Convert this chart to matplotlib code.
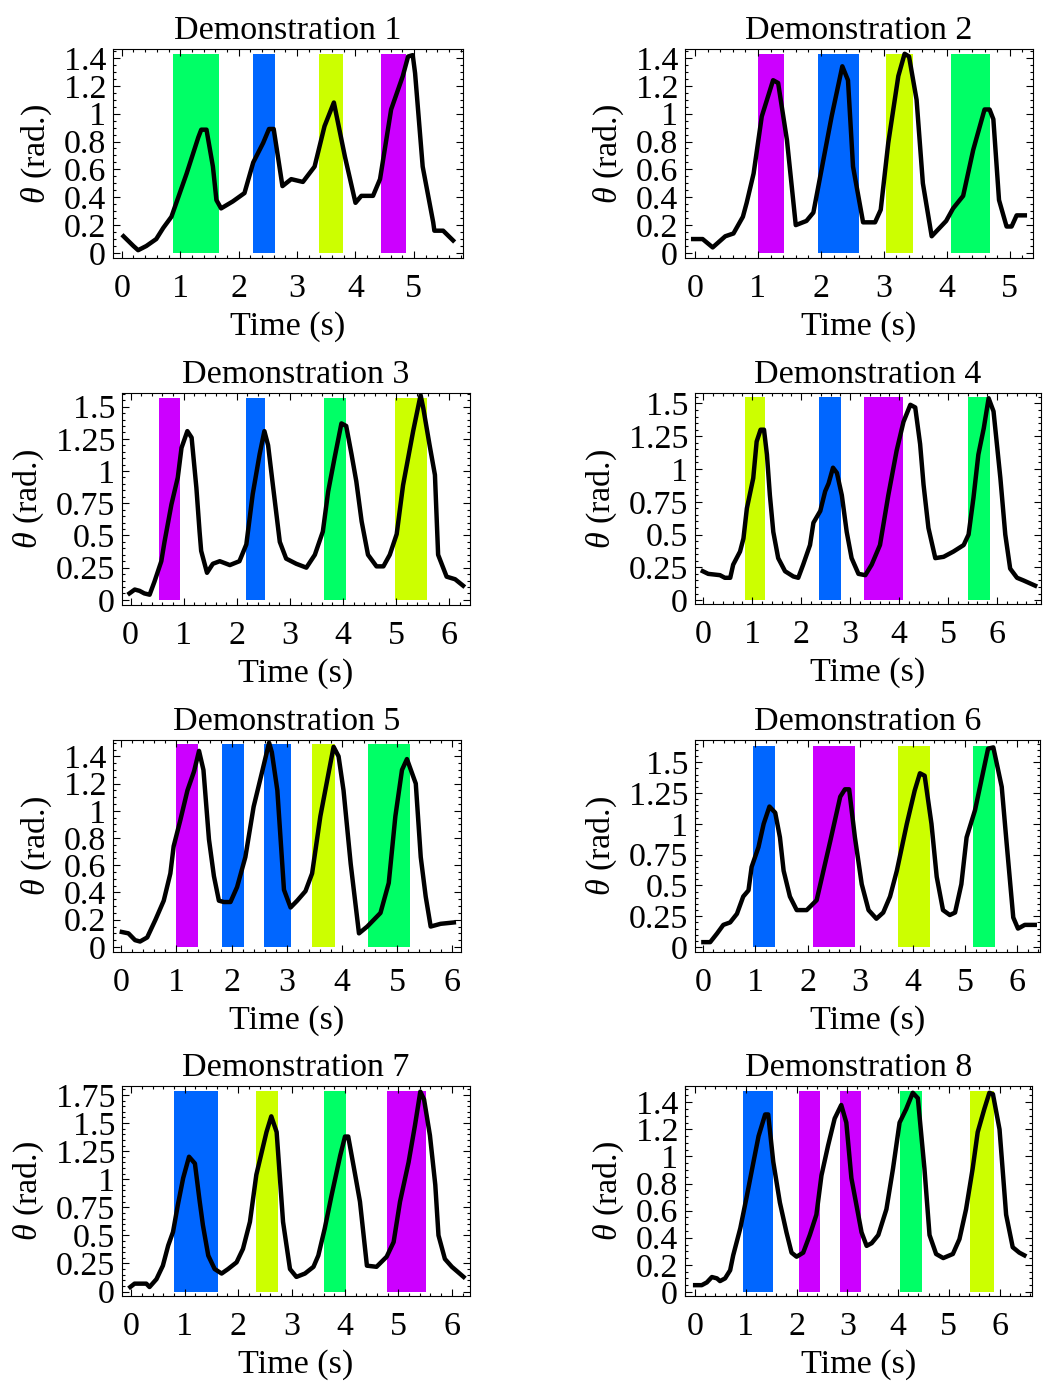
import numpy as np
import matplotlib.pyplot as plt
from matplotlib.ticker import MultipleLocator

plt.rcParams['font.family'] = ['Liberation Serif', 'DejaVu Serif']
plt.rcParams['mathtext.fontset'] = 'custom'
plt.rcParams['mathtext.rm'] = 'Liberation Serif'
plt.rcParams['mathtext.it'] = 'Liberation Serif:italic'

# ---- data ----
t1 = [0.03, 0.2, 0.28, 0.42, 0.59, 0.71, 0.85, 1.11, 1.31, 1.36, 1.45, 1.56, 1.62, 1.70, 1.90, 2.10,
      2.25, 2.42, 2.52, 2.60, 2.75, 2.90, 3.10, 3.30, 3.47, 3.63, 3.82, 4.00, 4.10, 4.30, 4.42, 4.61,
      4.81, 4.90, 4.98, 5.02, 5.15, 5.33, 5.35, 5.50, 5.67]
th1 = [0.12, 0.05, 0.02, 0.05, 0.10, 0.18, 0.26, 0.57, 0.83, 0.885, 0.885, 0.62, 0.38, 0.32, 0.37, 0.43,
       0.65, 0.79, 0.89, 0.89, 0.48, 0.53, 0.51, 0.62, 0.91, 1.08, 0.69, 0.36, 0.41, 0.41, 0.53, 1.03,
       1.27, 1.41, 1.42, 1.29, 0.62, 0.22, 0.16, 0.16, 0.09]

t2 = [-0.03, 0.12, 0.28, 0.48, 0.61, 0.76, 0.82, 0.93, 1.06, 1.24, 1.32, 1.46, 1.60, 1.77, 1.88, 2.17,
      2.34, 2.43, 2.51, 2.67, 2.86, 2.95, 3.07, 3.23, 3.33, 3.40, 3.52, 3.62, 3.76, 3.99, 4.10, 4.26,
      4.42, 4.60, 4.68, 4.74, 4.83, 4.95, 5.03, 5.11, 5.24]
th2 = [0.10, 0.10, 0.04, 0.12, 0.14, 0.26, 0.36, 0.57, 0.98, 1.24, 1.22, 0.81, 0.20, 0.23, 0.29, 0.98,
       1.34, 1.24, 0.62, 0.22, 0.22, 0.31, 0.79, 1.27, 1.43, 1.41, 1.10, 0.50, 0.12, 0.23, 0.32, 0.41,
       0.74, 1.03, 1.03, 0.96, 0.38, 0.19, 0.19, 0.27, 0.27]

t3 = [-0.02, 0.08, 0.17, 0.26, 0.36, 0.45, 0.58, 0.64, 0.77, 0.89, 0.96, 1.07, 1.15, 1.24, 1.30, 1.33,
      1.44, 1.55, 1.68, 1.87, 2.05, 2.18, 2.30, 2.43, 2.52, 2.59, 2.68, 2.81, 2.93, 3.12, 3.31, 3.47,
      3.62, 3.72, 3.84, 3.97, 4.06, 4.16, 4.25, 4.35, 4.47, 4.63, 4.76, 4.88, 5.01, 5.13, 5.32, 5.46,
      5.51, 5.63, 5.73, 5.79, 5.95, 6.11, 6.26]
th3 = [0.05, 0.08, 0.07, 0.05, 0.04, 0.14, 0.30, 0.45, 0.74, 0.95, 1.18, 1.31, 1.26, 0.87, 0.53, 0.38,
       0.21, 0.28, 0.30, 0.27, 0.30, 0.43, 0.82, 1.13, 1.31, 1.20, 0.89, 0.45, 0.32, 0.28, 0.25, 0.35,
       0.53, 0.84, 1.10, 1.37, 1.35, 1.13, 0.92, 0.61, 0.35, 0.26, 0.26, 0.35, 0.51, 0.89, 1.31, 1.59,
       1.49, 1.20, 0.97, 0.35, 0.18, 0.16, 0.11]

t4 = [-0.01, 0.10, 0.34, 0.44, 0.55, 0.61, 0.75, 0.82, 0.89, 1.02, 1.09, 1.17, 1.24, 1.30, 1.36, 1.43,
      1.53, 1.67, 1.84, 1.94, 2.04, 2.18, 2.25, 2.39, 2.49, 2.56, 2.65, 2.73, 2.83, 2.93, 3.03, 3.17,
      3.31, 3.44, 3.61, 3.78, 3.95, 4.09, 4.23, 4.33, 4.43, 4.50, 4.60, 4.74, 4.91, 5.11, 5.32, 5.42,
      5.52, 5.62, 5.73, 5.83, 5.93, 6.07, 6.17, 6.27, 6.41, 6.54, 6.78]
th4 = [0.22, 0.20, 0.19, 0.17, 0.17, 0.27, 0.37, 0.47, 0.70, 0.93, 1.21, 1.30, 1.30, 1.11, 0.80, 0.52,
       0.32, 0.22, 0.18, 0.17, 0.27, 0.42, 0.59, 0.68, 0.83, 0.89, 1.01, 0.97, 0.80, 0.52, 0.32, 0.20,
       0.19, 0.27, 0.42, 0.80, 1.14, 1.36, 1.49, 1.47, 1.19, 0.88, 0.55, 0.32, 0.33, 0.37, 0.42, 0.50,
       0.78, 1.11, 1.31, 1.54, 1.44, 0.93, 0.50, 0.24, 0.17, 0.15, 0.11]

t5 = [0.01, 0.13, 0.25, 0.34, 0.47, 0.62, 0.77, 0.89, 0.95, 1.07, 1.20, 1.32, 1.41, 1.49, 1.59, 1.68,
      1.77, 1.86, 1.98, 2.10, 2.25, 2.40, 2.55, 2.68, 2.73, 2.83, 2.95, 3.07, 3.19, 3.34, 3.46, 3.61,
      3.76, 3.85, 3.94, 4.03, 4.16, 4.31, 4.46, 4.70, 4.85, 4.97, 5.09, 5.18, 5.34, 5.43, 5.52, 5.61,
      5.79, 6.03]
th5 = [0.11, 0.10, 0.05, 0.04, 0.07, 0.20, 0.34, 0.54, 0.74, 0.93, 1.15, 1.29, 1.44, 1.30, 0.79, 0.52,
       0.34, 0.33, 0.33, 0.44, 0.66, 1.03, 1.28, 1.50, 1.43, 1.15, 0.42, 0.29, 0.34, 0.41, 0.54, 0.96,
       1.28, 1.47, 1.40, 1.15, 0.61, 0.10, 0.15, 0.25, 0.47, 0.96, 1.30, 1.38, 1.20, 0.66, 0.37, 0.15,
       0.17, 0.18]

t6 = [0.01, 0.14, 0.27, 0.39, 0.52, 0.65, 0.77, 0.87, 0.93, 1.06, 1.16, 1.27, 1.38, 1.47, 1.54, 1.66,
      1.79, 1.98, 2.17, 2.30, 2.43, 2.62, 2.71, 2.79, 2.90, 3.03, 3.16, 3.31, 3.44, 3.57, 3.70, 3.89,
      4.04, 4.14, 4.23, 4.36, 4.46, 4.58, 4.71, 4.81, 4.93, 5.03, 5.19, 5.31, 5.44, 5.54, 5.70, 5.79,
      5.92, 6.01, 6.14, 6.33]
th6 = [0.04, 0.04, 0.11, 0.18, 0.20, 0.27, 0.41, 0.46, 0.65, 0.81, 1.00, 1.14, 1.09, 0.89, 0.62, 0.41,
       0.30, 0.30, 0.38, 0.62, 0.86, 1.22, 1.28, 1.28, 0.89, 0.51, 0.30, 0.23, 0.28, 0.41, 0.62, 1.00,
       1.27, 1.41, 1.39, 1.00, 0.57, 0.30, 0.26, 0.28, 0.51, 0.89, 1.11, 1.35, 1.61, 1.62, 1.30, 0.86,
       0.24, 0.15, 0.18, 0.18]

t7 = [-0.02, 0.06, 0.28, 0.34, 0.47, 0.59, 0.69, 0.78, 0.87, 0.97, 1.08, 1.19, 1.28, 1.34, 1.44, 1.56,
      1.69, 1.81, 1.97, 2.09, 2.22, 2.34, 2.47, 2.53, 2.62, 2.72, 2.84, 2.97, 3.09, 3.25, 3.41, 3.50,
      3.62, 3.75, 3.91, 4.00, 4.06, 4.19, 4.28, 4.41, 4.59, 4.78, 4.91, 5.03, 5.19, 5.31, 5.41, 5.48,
      5.59, 5.69, 5.75, 5.87, 6.00, 6.22]
th7 = [0.04, 0.07, 0.07, 0.04, 0.11, 0.23, 0.41, 0.53, 0.77, 1.01, 1.20, 1.14, 0.80, 0.59, 0.32, 0.20,
       0.16, 0.20, 0.26, 0.38, 0.62, 1.04, 1.30, 1.42, 1.56, 1.42, 0.62, 0.20, 0.13, 0.16, 0.22, 0.32,
       0.56, 0.86, 1.21, 1.38, 1.38, 1.04, 0.80, 0.23, 0.22, 0.31, 0.44, 0.80, 1.15, 1.48, 1.78, 1.71,
       1.39, 0.95, 0.50, 0.29, 0.22, 0.13]

t8 = [0.0, 0.13, 0.23, 0.33, 0.43, 0.49, 0.59, 0.69, 0.75, 0.89, 1.02, 1.15, 1.25, 1.38, 1.44, 1.54,
      1.67, 1.80, 1.90, 2.00, 2.13, 2.26, 2.39, 2.49, 2.62, 2.75, 2.88, 2.98, 3.08, 3.18, 3.28, 3.38,
      3.48, 3.61, 3.77, 3.90, 4.03, 4.16, 4.29, 4.39, 4.52, 4.62, 4.75, 4.89, 5.08, 5.21, 5.34, 5.47,
      5.57, 5.70, 5.80, 5.87, 6.00, 6.13, 6.26, 6.39, 6.49]
th8 = [0.05, 0.05, 0.07, 0.11, 0.10, 0.08, 0.10, 0.16, 0.27, 0.47, 0.71, 0.96, 1.15, 1.31, 1.31, 0.96,
       0.66, 0.44, 0.29, 0.26, 0.29, 0.42, 0.57, 0.86, 1.08, 1.28, 1.38, 1.25, 0.84, 0.64, 0.44, 0.34,
       0.36, 0.42, 0.61, 0.91, 1.25, 1.35, 1.47, 1.43, 0.91, 0.42, 0.28, 0.25, 0.28, 0.39, 0.61, 0.91,
       1.18, 1.35, 1.47, 1.46, 1.20, 0.57, 0.33, 0.29, 0.27]

# segments: start, end, primitive (G green, B blue, Y yellow, P purple)
seg1 = [(0.87, 1.67, 'G'), (2.24, 2.63, 'B'), (3.37, 3.79, 'Y'), (4.44, 4.87, 'P')]
seg2 = [(1.00, 1.42, 'P'), (1.95, 2.61, 'B'), (3.04, 3.47, 'Y'), (4.07, 4.68, 'G')]
seg3 = [(0.53, 0.94, 'P'), (2.17, 2.54, 'B'), (3.64, 4.05, 'G'), (4.97, 5.58, 'Y')]
seg4 = [(0.86, 1.26, 'Y'), (2.36, 2.81, 'B'), (3.29, 4.09, 'P'), (5.41, 5.86, 'G')]
seg5 = [(1.00, 1.40, 'P'), (1.83, 2.23, 'B'), (2.58, 3.07, 'B'), (3.46, 3.88, 'Y'), (4.48, 5.24, 'G')]
seg6 = [(0.96, 1.38, 'B'), (2.10, 2.90, 'P'), (3.73, 4.34, 'Y'), (5.16, 5.57, 'G')]
seg7 = [(0.79, 1.62, 'B'), (2.33, 2.74, 'Y'), (3.61, 4.02, 'G'), (4.79, 5.52, 'P')]
seg8 = [(0.94, 1.53, 'B'), (2.04, 2.47, 'P'), (2.85, 3.27, 'P'), (4.04, 4.47, 'G'), (5.41, 5.90, 'Y')]

xtick_max = [5, 5, 6, 6, 6, 6, 6, 6]
ytick_step = [0.2, 0.2, 0.25, 0.25, 0.2, 0.25, 0.25, 0.2]
ytick_max = [1.4, 1.4, 1.5, 1.5, 1.4, 1.5, 1.75, 1.4]

colors = {'G': '#00ff66', 'B': '#0066ff', 'Y': '#ccff00', 'P': '#cc00ff'}

times = [t1, t2, t3, t4, t5, t6, t7, t8]
thetas = [th1, th2, th3, th4, th5, th6, th7, th8]
segs = [seg1, seg2, seg3, seg4, seg5, seg6, seg7, seg8]

# frame boxes in pixels (left, right, top, bottom) and axis limits
W, H = 1045, 1384
frames = [(113, 463, 49, 258), (685, 1033, 49, 258),
          (122, 470, 393, 605), (695, 1041, 393, 604),
          (113, 461, 740, 952), (695, 1040, 740, 952),
          (122, 470, 1086, 1296), (685, 1032, 1086, 1296)]
xlims = [(-0.15, 5.84), (-0.16, 5.37), (-0.16, 6.39), (-0.17, 6.90),
         (-0.15, 6.16), (-0.15, 6.43), (-0.175, 6.34), (-0.2, 6.64)]
ylims = [(-0.036, 1.464), (-0.036, 1.464), (-0.04, 1.606), (-0.03, 1.58),
         (-0.037, 1.52), (-0.04, 1.68), (-0.04, 1.83), (-0.03, 1.52)]
band_top = [1.43, 1.43, 1.57, 1.55, 1.49, 1.635, 1.786, 1.48]


def fmt(v):
    s = ('%.2f' % v).rstrip('0').rstrip('.')
    return s


fig = plt.figure(figsize=(W / 100, H / 100), dpi=100)
fs = 24.5

for i in range(8):
    l, r, t, b = frames[i]
    ax = fig.add_axes([l / W, 1 - b / H, (r - l) / W, (b - t) / H])
    for s0, s1, c in segs[i]:
        ax.fill_between([s0, s1], 0, band_top[i], color=colors[c], lw=0, zorder=1)
    ax.plot(times[i], thetas[i], color='black', lw=3.2, zorder=3)
    ax.set_xlim(*xlims[i])
    ax.set_ylim(*ylims[i])
    ax.set_xticks(range(0, xtick_max[i] + 1))
    yt = np.arange(0, ytick_max[i] + 1e-6, ytick_step[i])
    ax.set_yticks(yt)
    ax.set_yticklabels([fmt(v) for v in yt])
    ax.xaxis.set_minor_locator(MultipleLocator(0.2))
    ax.yaxis.set_minor_locator(MultipleLocator(0.05))
    ax.tick_params(which='both', direction='in', top=True, right=True,
                   labelsize=fs, width=0.8)
    ax.tick_params(which='major', length=5)
    ax.tick_params(axis='x', which='major', pad=11)
    ax.tick_params(axis='y', which='major', pad=5)
    ax.tick_params(which='minor', length=2.5)
    for sp in ax.spines.values():
        sp.set_linewidth(0.8)
    ax.set_title('Demonstration %d' % (i + 1), fontsize=fs, pad=7)
    ax.set_xlabel('Time (s)', fontsize=fs, labelpad=5)
    ax.set_ylabel(r'$\theta$ (rad.)', fontsize=fs, labelpad=7)

plt.savefig('out.png', dpi=100)
